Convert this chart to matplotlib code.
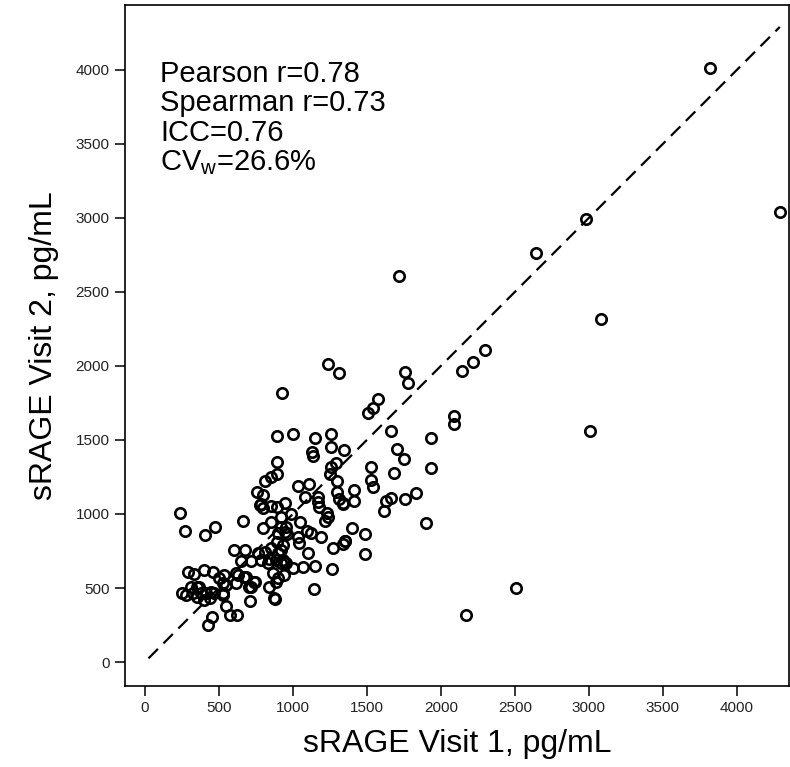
import matplotlib
matplotlib.use("Agg")
import matplotlib.pyplot as plt
import numpy as np

plt.rcParams["font.family"] = ["Liberation Sans", "DejaVu Sans"]
plt.rcParams["mathtext.fontset"] = "custom"
plt.rcParams["mathtext.rm"] = "Liberation Sans"

# sRAGE (pg/mL) at the two visits
visit1 = [
    3820, 4290, 2980, 3080, 3010, 2640, 1720, 2300, 2220, 2140, 2510, 2170,
    2090, 2090, 1935, 1935, 1900, 1835, 1760, 1780, 1575, 1545, 1505, 1665,
    1705, 1750, 1685, 1760, 1665, 1630, 1615, 1525, 1525, 1540, 1415, 1410,
    1340, 1400, 1485, 1355, 1340, 1485,
    1235, 1310, 925, 895, 1000, 1150, 1255, 1260, 1345, 1130, 1135, 895,
    895, 855, 810, 755, 800, 785, 800, 855, 890, 945, 1035, 1110, 1085, 1170,
    1170, 1180, 1255, 1295, 1250, 1300, 1300, 1315, 1340, 1230, 1235, 1220,
    1350, 1270, 1265, 1140,
    237, 272, 408, 474, 663, 775, 800, 855, 920, 985, 920, 955, 945, 1050,
    1095, 898, 960, 1033, 1042, 1125, 1190, 1105, 1067, 1153, 602, 680, 763,
    853, 920, 650, 718, 785, 830, 841, 886, 932, 943, 954, 1000, 814, 893,
    932, 898, 920, 864, 886, 841, 880, 943, 713, 745, 717, 672, 627, 616,
    616, 684, 740, 706, 548, 526, 548, 573, 622, 455, 428, 291, 334, 398,
    463, 503, 526, 537, 311, 356, 368, 413, 379, 356, 400, 440, 469, 446,
    526, 248, 277, 323, 875, 898,
]
visit2 = [
    4010, 3040, 2990, 2320, 1560, 2760, 2610, 2110, 2025, 1965, 500, 315,
    1660, 1610, 1510, 1310, 940, 1140, 1960, 1885, 1775, 1715, 1685, 1560,
    1440, 1370, 1275, 1100, 1105, 1090, 1020, 1315, 1230, 1180, 1165, 1090,
    1070, 905, 865, 820, 800, 730,
    2010, 1950, 1820, 1525, 1540, 1510, 1540, 1455, 1430, 1420, 1395, 1350,
    1270, 1250, 1225, 1150, 1125, 1070, 1040, 1055, 1045, 1075, 1190, 1205,
    1115, 1115, 1080, 1050, 1315, 1345, 1270, 1220, 1150, 1100, 1075, 1010,
    980, 950, 815, 770, 630, 490,
    1005, 882, 860, 912, 953, 1060, 903, 948, 982, 998, 914, 914, 881, 946,
    887, 870, 865, 843, 802, 870, 847, 739, 640, 649, 757, 757, 738, 768,
    757, 682, 680, 689, 667, 694, 689, 689, 678, 667, 637, 745, 813, 791,
    739, 667, 599, 543, 509, 424, 588, 410, 539, 509, 576, 588, 532, 599,
    576, 543, 509, 520, 453, 376, 318, 318, 306, 247, 608, 593, 621, 606,
    566, 532, 588, 509, 509, 509, 464, 464, 441, 419, 430, 464, 475, 464,
    464, 453, 464, 430, 565,
]

identity_line = [25, 4290]
ticks = [0, 500, 1000, 1500, 2000, 2500, 3000, 3500, 4000]
stats_lines = [
    "Pearson r=0.78",
    "Spearman r=0.73",
    "ICC=0.76",
    r"CV$_{\mathregular{w}}$=26.6%",
]

fig = plt.figure(figsize=(7.9, 7.67), dpi=100)
ax = fig.add_axes([0.158, 0.1056, 0.8405, 0.888])

ax.plot(identity_line, identity_line, color="black", lw=1.6,
        linestyle=(0, (6, 3.5)), zorder=1)
ax.plot(visit1, visit2, linestyle="none", marker="o", markersize=7.5,
        markerfacecolor="none", markeredgecolor="black", markeredgewidth=1.9,
        zorder=2)

ax.set_xlim(-135, 4351)
ax.set_ylim(-162, 4439)
ax.set_xticks(ticks)
ax.set_yticks(ticks)
ax.tick_params(direction="out", length=7, width=1.1, labelsize=11,
               labelcolor="#222222", pad=4)
for s in ax.spines.values():
    s.set_linewidth(1.2)

ax.set_xlabel("sRAGE Visit 1, pg/mL", fontsize=23, labelpad=10)
ax.set_ylabel("sRAGE Visit 2, pg/mL", fontsize=23, labelpad=12)

baselines = [0.887, 0.844, 0.800, 0.758]
for txt, yb in zip(stats_lines, baselines):
    ax.text(0.053, yb, txt, transform=ax.transAxes, fontsize=21,
            ha="left", va="baseline")

fig.savefig("out.png", dpi=100)
